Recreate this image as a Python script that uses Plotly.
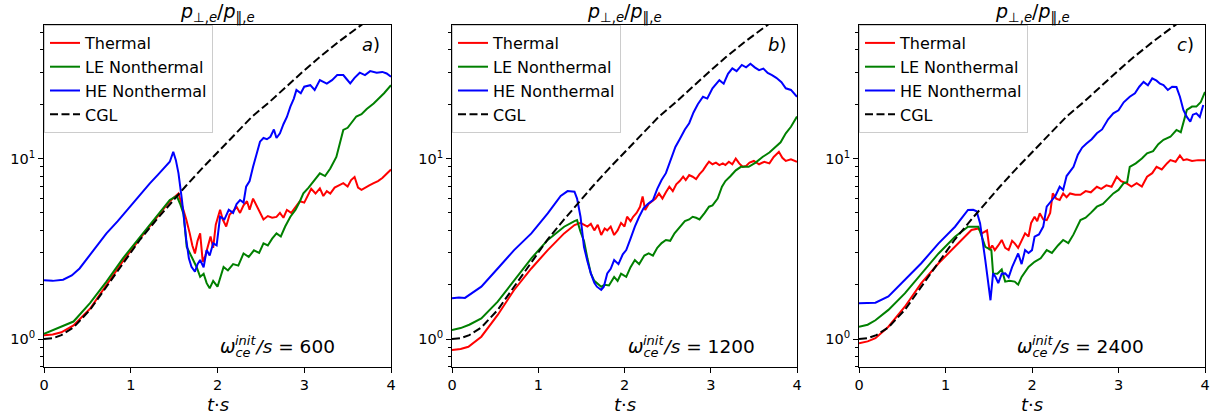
import plotly.graph_objects as go

# ---------------- data ----------------
cgl_t = [0, 0.1, 0.2, 0.34, 0.53, 0.72, 0.91, 1.11, 1.30, 1.49, 1.63, 1.82, 2.02, 2.21, 2.40,
         2.60, 2.79, 2.98, 3.18, 3.40, 3.64, 3.85, 4.0]
cgl_v = [1.00, 1.01, 1.05, 1.16, 1.45, 1.95, 2.65, 3.57, 4.6, 5.9, 7.0, 8.8, 11.1, 13.8, 17.1,
         20.6, 25.0, 30.2, 36.6, 44.5, 54.2, 64, 72]

# panel a  (omega/s = 600)
a_th_t = [0, 0.1, 0.2, 0.34, 0.53, 0.72, 0.91, 1.11, 1.30, 1.45, 1.55, 1.60, 1.64, 1.68, 1.71,
          1.74, 1.77, 1.80, 1.83, 1.86, 1.89, 1.92, 1.95, 1.98, 2.03, 2.06, 2.10, 2.14, 2.18,
          2.22, 2.26, 2.30, 2.34, 2.37, 2.41, 2.45, 2.49, 2.53, 2.58, 2.63, 2.68, 2.72, 2.76,
          2.80, 2.85, 2.90, 2.95, 3.00, 3.04, 3.08, 3.13, 3.18, 3.22, 3.26, 3.30, 3.35, 3.40,
          3.45, 3.50, 3.54, 3.58, 3.62, 3.66, 3.70, 3.75, 3.80, 3.85, 3.90, 3.95, 4.0]
a_th_v = [1.05, 1.06, 1.09, 1.19, 1.47, 1.98, 2.70, 3.62, 4.75, 5.8, 6.4, 5.4, 4.6, 3.85, 3.3,
          2.98, 3.5, 3.85, 2.68, 2.9, 3.3, 3.7, 3.2, 4.3, 5.2, 4.6, 4.2, 4.9, 5.1,
          5.4, 5.0, 5.5, 5.8, 5.2, 6.0, 5.5, 5.0, 4.6, 4.8, 4.7, 4.75, 5.0, 4.7,
          5.19, 5.0, 5.4, 5.8, 5.7, 6.2, 6.8, 6.4, 6.83, 6.2, 6.6, 6.4, 6.9, 7.1,
          7.3, 7.0, 7.6, 7.9, 6.9, 6.7, 6.9, 7.1, 7.3, 7.5, 7.8, 8.2, 8.7]
a_le_t = [0, 0.1, 0.2, 0.34, 0.53, 0.72, 0.91, 1.11, 1.30, 1.45, 1.53, 1.57, 1.61, 1.645, 1.68,
          1.72, 1.76, 1.80, 1.84, 1.875, 1.91, 1.95, 2.0, 2.07, 2.12, 2.18, 2.24, 2.30, 2.36,
          2.42, 2.48, 2.53, 2.58, 2.63, 2.68, 2.73, 2.78, 2.84, 2.90, 2.95, 2.99, 3.05, 3.12,
          3.18, 3.24, 3.30, 3.37, 3.41, 3.45, 3.50, 3.55, 3.60, 3.66, 3.72, 3.80, 3.86, 3.92, 4.0]
a_le_v = [1.07, 1.12, 1.17, 1.25, 1.58, 2.08, 2.80, 3.69, 4.76, 5.9, 6.2, 5.6, 4.9, 3.24, 3.0,
          2.74, 2.5, 2.21, 2.3, 2.04, 1.91, 2.1, 1.95, 2.51, 2.4, 2.6, 2.55, 2.98, 2.85,
          3.1, 3.0, 3.39, 3.3, 3.6, 3.85, 3.7, 4.2, 4.76, 5.2, 5.8, 6.41, 6.9, 7.6,
          8.28, 8.0, 8.8, 10.2, 12.0, 14.4, 14.8, 16.0, 17.1, 17.6, 18.8, 20.2, 21.5, 23.0, 25.5]
a_he_t = [0, 0.1, 0.22, 0.32, 0.41, 0.55, 0.72, 0.85, 0.99, 1.10, 1.22, 1.32, 1.41, 1.45, 1.49,
          1.52, 1.55, 1.59, 1.64, 1.67, 1.70, 1.74, 1.77, 1.80, 1.84, 1.875, 1.91, 1.95, 1.99,
          2.03, 2.08, 2.13, 2.18, 2.22, 2.26, 2.30, 2.33, 2.37, 2.41, 2.45, 2.49, 2.53, 2.57,
          2.61, 2.65, 2.68, 2.72, 2.76, 2.80, 2.84, 2.88, 2.91, 2.96, 3.00, 3.07, 3.12, 3.18,
          3.26, 3.32, 3.38, 3.45, 3.49, 3.53, 3.58, 3.64, 3.70, 3.76, 3.835, 3.90, 3.95, 4.0]
a_he_v = [2.12, 2.10, 2.13, 2.25, 2.46, 3.0, 3.85, 4.5, 5.41, 6.2, 7.29, 8.2, 9.2, 9.6, 10.9,
          9.8, 8.3, 5.9, 3.54, 2.8, 2.51, 2.36, 2.6, 2.74, 2.5, 3.11, 2.9, 3.39, 3.3,
          4.76, 4.6, 5.2, 5.0, 5.6, 5.89, 5.7, 6.98, 7.5, 9.0, 10.5, 12.4, 13.0, 12.8,
          13.2, 14.5, 13.0, 13.8, 15.5, 17.0, 19.4, 21.5, 24.0, 23.0, 25.0, 25.5, 24.0, 27.2,
          26.0, 27.2, 29.0, 29.0, 27.5, 26.1, 28.0, 29.9, 29.0, 30.5, 29.9, 30.2, 29.6, 28.4]

# panel b  (omega/s = 1200)
b_th_t = [0, 0.1, 0.19, 0.34, 0.53, 0.72, 0.92, 1.11, 1.30, 1.42, 1.49, 1.53, 1.57, 1.61, 1.65,
          1.69, 1.73, 1.77, 1.80, 1.84, 1.88, 1.92, 1.96, 2.00, 2.03, 2.07, 2.10, 2.14, 2.18,
          2.21, 2.24, 2.28, 2.32, 2.36, 2.40, 2.44, 2.48, 2.52, 2.56, 2.60, 2.64, 2.68, 2.71,
          2.75, 2.79, 2.83, 2.87, 2.91, 2.95, 2.98, 3.02, 3.06, 3.10, 3.14, 3.17, 3.21, 3.25,
          3.29, 3.33, 3.37, 3.41, 3.45, 3.50, 3.56, 3.62, 3.68, 3.73, 3.79, 3.83, 3.87, 3.93, 4.0]
b_th_v = [0.87, 0.88, 0.906, 1.03, 1.36, 1.87, 2.46, 3.11, 3.85, 4.28, 4.4, 4.3, 4.2, 4.35, 4.0,
          4.3, 3.77, 4.1, 4.0, 4.2, 3.77, 4.0, 4.4, 4.2, 4.76, 4.5, 4.76, 5.0, 5.4,
          6.16, 5.19, 5.6, 5.8, 6.0, 6.41, 6.0, 6.5, 6.98, 6.6, 7.2, 7.5, 7.93, 7.6,
          8.1, 7.93, 7.7, 8.2, 8.6, 9.2, 9.6, 9.3, 9.5, 9.2, 9.4, 9.2, 9.6, 9.3,
          10.0, 9.4, 9.0, 9.1, 9.5, 9.7, 9.3, 9.6, 9.4, 10.2, 10.9, 10.1, 9.7, 9.9, 9.6]
b_le_t = [0, 0.1, 0.2, 0.34, 0.53, 0.72, 0.92, 1.11, 1.30, 1.42, 1.45, 1.49, 1.53, 1.57, 1.61,
          1.65, 1.68, 1.73, 1.77, 1.82, 1.88, 1.92, 1.96, 2.02, 2.07, 2.12, 2.17, 2.23, 2.28,
          2.33, 2.38, 2.43, 2.48, 2.53, 2.58, 2.64, 2.70, 2.75, 2.79, 2.83, 2.87, 2.93, 2.98,
          3.02, 3.08, 3.13, 3.17, 3.23, 3.29, 3.35, 3.44, 3.52, 3.60, 3.68, 3.75, 3.81, 3.87,
          3.93, 4.0]
b_le_v = [1.12, 1.15, 1.2, 1.30, 1.61, 2.12, 2.80, 3.54, 4.19, 4.5, 4.56, 3.93, 3.5, 2.8, 2.31,
          2.1, 2.04, 1.95, 2.0, 1.98, 2.21, 2.1, 2.3, 2.21, 2.5, 2.74, 2.6, 2.9, 2.98,
          2.9, 3.2, 3.4, 3.54, 3.5, 3.85, 4.19, 4.5, 4.6, 4.76, 4.7, 4.6, 5.0, 5.41,
          5.5, 6.0, 6.98, 7.5, 8.0, 8.6, 9.0, 9.0, 9.5, 10.2, 10.8, 11.6, 12.3, 13.8,
          15.0, 17.1]
b_he_t = [0, 0.08, 0.15, 0.34, 0.53, 0.72, 0.92, 1.11, 1.26, 1.34, 1.42, 1.45, 1.49, 1.53, 1.57,
          1.61, 1.65, 1.68, 1.73, 1.76, 1.80, 1.84, 1.88, 1.93, 1.98, 2.02, 2.07, 2.12, 2.17,
          2.22, 2.27, 2.33, 2.38, 2.43, 2.48, 2.53, 2.59, 2.64, 2.70, 2.75, 2.80, 2.85, 2.91,
          2.96, 3.02, 3.10, 3.15, 3.20, 3.25, 3.30, 3.36, 3.41, 3.46, 3.51, 3.56, 3.61, 3.66,
          3.71, 3.76, 3.82, 3.87, 3.93, 4.0]
b_he_v = [1.68, 1.70, 1.69, 1.95, 2.46, 3.11, 3.85, 4.97, 6.2, 6.6, 6.55, 6.0, 4.76, 3.24, 2.7,
          2.31, 2.05, 1.95, 1.87, 1.95, 2.31, 2.45, 2.74, 2.6, 2.95, 3.11, 3.6, 4.2, 4.76,
          5.3, 5.6, 5.89, 6.8, 7.6, 8.3, 9.6, 11.6, 12.8, 14.5, 15.7, 18.0, 20.0, 22.0,
          21.5, 24.5, 27.2, 26.0, 29.5, 31.6, 30.5, 33.0, 32.0, 33.5, 32.0, 30.9, 31.5, 29.8,
          29.0, 28.0, 26.5, 24.5, 24.0, 22.0]

# panel c  (omega/s = 2400)
c_th_t = [0, 0.1, 0.19, 0.34, 0.53, 0.72, 0.92, 1.11, 1.30, 1.38, 1.42, 1.48, 1.51, 1.54, 1.57,
          1.61, 1.65, 1.69, 1.73, 1.77, 1.80, 1.84, 1.88, 1.92, 1.96, 1.99, 2.03, 2.06, 2.09,
          2.13, 2.17, 2.21, 2.24, 2.28, 2.32, 2.36, 2.40, 2.44, 2.50, 2.56, 2.62, 2.68, 2.75,
          2.80, 2.86, 2.92, 2.98, 3.03, 3.09, 3.15, 3.21, 3.27, 3.33, 3.39, 3.44, 3.50, 3.56,
          3.60, 3.66, 3.71, 3.75, 3.79, 3.85, 3.92, 4.0]
c_th_v = [0.946, 0.97, 1.01, 1.17, 1.51, 2.04, 2.63, 3.24, 4.02, 4.1, 3.85, 4.0, 3.11, 3.3, 3.11,
          3.3, 3.54, 3.2, 3.11, 3.5, 3.39, 3.2, 3.5, 3.85, 3.7, 4.4, 4.76, 4.5, 4.97,
          4.6, 4.56, 5.0, 6.41, 6.0, 5.89, 6.4, 6.1, 6.41, 6.3, 6.3, 6.6, 6.5, 6.98,
          6.8, 7.1, 6.98, 7.93, 7.5, 7.3, 7.0, 7.3, 7.0, 7.93, 8.3, 9.0, 8.7, 9.4,
          9.8, 9.6, 10.4, 9.8, 9.9, 9.7, 9.8, 9.8]
c_le_t = [0, 0.1, 0.19, 0.34, 0.53, 0.72, 0.92, 1.11, 1.26, 1.38, 1.46, 1.53, 1.55, 1.60, 1.65,
          1.69, 1.74, 1.80, 1.84, 1.88, 1.96, 2.03, 2.10, 2.17, 2.23, 2.30, 2.36, 2.42, 2.48,
          2.56, 2.62, 2.68, 2.75, 2.82, 2.88, 2.94, 3.00, 3.06, 3.10, 3.13, 3.20, 3.27, 3.33,
          3.40, 3.46, 3.52, 3.60, 3.67, 3.72, 3.79, 3.85, 3.90, 3.95, 4.0]
c_le_v = [1.17, 1.20, 1.27, 1.45, 1.79, 2.31, 2.98, 3.69, 4.19, 4.19, 3.24, 3.11, 2.31, 2.3, 2.43,
          2.08, 2.1, 2.08, 2.0, 2.21, 2.51, 2.68, 2.8, 3.11, 3.0, 3.3, 3.54, 3.4, 3.8,
          4.56, 4.7, 5.0, 5.41, 5.6, 6.0, 6.41, 6.7, 7.3, 7.4, 9.0, 9.4, 10.0, 10.7,
          11.0, 12.0, 12.7, 13.2, 14.4, 14.0, 18.6, 19.4, 19.4, 20.5, 23.4]
c_he_t = [0, 0.1, 0.19, 0.34, 0.53, 0.72, 0.92, 1.11, 1.26, 1.32, 1.36, 1.40, 1.46, 1.49, 1.52,
          1.55, 1.58, 1.61, 1.65, 1.69, 1.73, 1.77, 1.80, 1.84, 1.88, 1.92, 1.96, 2.00, 2.03,
          2.08, 2.13, 2.17, 2.22, 2.27, 2.32, 2.36, 2.40, 2.44, 2.48, 2.53, 2.58, 2.63, 2.69,
          2.75, 2.81, 2.88, 2.94, 3.00, 3.06, 3.13, 3.19, 3.24, 3.29, 3.34, 3.39, 3.44, 3.48,
          3.52, 3.57, 3.62, 3.67, 3.71, 3.75, 3.79, 3.83, 3.86, 3.90, 3.94, 3.98]
c_he_v = [1.58, 1.58, 1.59, 1.72, 2.12, 2.63, 3.39, 4.19, 5.19, 5.2, 5.1, 4.37, 2.74, 2.04, 1.64,
          2.31, 2.2, 2.04, 2.3, 2.31, 2.2, 2.5, 2.7, 2.98, 2.6, 3.11, 3.0, 3.11, 3.69,
          3.8, 4.2, 5.41, 5.8, 6.2, 6.98, 6.7, 8.0, 8.5, 9.0, 10.5, 11.5, 12.1, 12.8,
          13.8, 14.5, 16.5, 17.8, 18.5, 20.5, 22.0, 23.0, 25.0, 26.6, 25.5, 27.8, 27.0, 26.0,
          25.5, 24.0, 25.0, 24.9, 22.0, 18.6, 17.0, 16.0, 17.5, 17.8, 17.0, 19.8]

panel_letters = ["a", "b", "c"]
omega_values = ["600", "1200", "2400"]
series_names = ["Thermal", "LE Nonthermal", "HE Nonthermal", "CGL"]
series_colors = ["#ff0000", "#008000", "#0000ff", "#000000"]

panels = [
    [(a_th_t, a_th_v), (a_le_t, a_le_v), (a_he_t, a_he_v)],
    [(b_th_t, b_th_v), (b_le_t, b_le_v), (b_he_t, b_he_v)],
    [(c_th_t, c_th_v), (c_le_t, c_le_v), (c_he_t, c_he_v)],
]

# ---------------- layout geometry ----------------
W, H = 1222, 419
ML, MR, MT, MB = 44, 17, 25, 52
PW = W - ML - MR
PH = H - MT - MB
panel_px = [(44, 391), (452, 797), (859, 1205)]
domains = [[(a - ML) / PW, (b - ML) / PW] for a, b in panel_px]

FONT = "DejaVu Sans"
fig = go.Figure()

for i, series in enumerate(panels):
    xa = "x" if i == 0 else f"x{i+1}"
    ya = "y" if i == 0 else f"y{i+1}"
    lg = "legend" if i == 0 else f"legend{i+1}"
    for k, (tt, vv) in enumerate(series):
        assert len(tt) == len(vv), (i, k, len(tt), len(vv))
        fig.add_trace(go.Scatter(x=tt, y=vv, mode="lines", name=series_names[k],
                                 line=dict(color=series_colors[k], width=2),
                                 xaxis=xa, yaxis=ya, legend=lg))
    fig.add_trace(go.Scatter(x=cgl_t, y=cgl_v, mode="lines", name=series_names[3],
                             line=dict(color="#000000", width=2, dash="8px,3.5px"),
                             xaxis=xa, yaxis=ya, legend=lg))

axis_common = dict(showline=True, mirror=True, linecolor="black", linewidth=1,
                   ticks="outside", ticklen=5, tickwidth=1, tickcolor="black",
                   showgrid=False, zeroline=False, automargin=False,
                   tickfont=dict(family=FONT, size=14.5, color="black"))

minor_vals = [0.7, 0.8, 0.9, 2, 3, 4, 5, 6, 7, 8, 9, 20, 30, 40, 50]
layout = dict(width=W, height=H, margin=dict(l=ML, r=MR, t=MT, b=MB),
              paper_bgcolor="white", plot_bgcolor="white", hovermode=False,
              font=dict(family=FONT, color="black"), showlegend=True)

annotations = []
label_starts = [218, 626, 1015]
for i in range(3):
    sx = "" if i == 0 else str(i + 1)
    layout["xaxis" + sx] = dict(domain=domains[i], anchor="y" + sx, range=[0, 4],
                                tickvals=[0, 1, 2, 3, 4], **axis_common)
    layout["yaxis" + sx] = dict(domain=[0, 1], anchor="x" + sx, type="log",
                                range=[-0.155, 1.74], tickvals=[1, 10],
                                ticktext=["10<sup>0</sup>", "10<sup>1</sup>"],
                                minor=dict(ticks="outside", ticklen=3, tickwidth=1,
                                           tickcolor="black", tickvals=minor_vals),
                                **axis_common)
    layout["legend" + sx] = dict(x=domains[i][0], y=1, xanchor="left", yanchor="top",
                                 bgcolor="rgba(255,255,255,0.8)", bordercolor="#cccccc",
                                 borderwidth=1, font=dict(family=FONT, size=16, color="black"),
                                 tracegroupgap=0, itemwidth=30)
    xd = "x" + sx + " domain"
    yd = "y" + sx + " domain"
    # title
    annotations.append(dict(text="<i>p</i><sub>⊥,<i>e</i></sub>/<i>p</i><sub>\u2016,<i>e</i></sub>",
                            xref=xd, yref="paper", x=0.5, y=1.035, xanchor="center",
                            yanchor="middle", showarrow=False,
                            font=dict(family=FONT, size=19, color="black")))
    # x-axis title
    annotations.append(dict(text="<i>t</i>·<i>s</i>", xref=xd, yref="paper", x=0.5, y=-0.111,
                            xanchor="center", yanchor="middle", showarrow=False,
                            font=dict(family=FONT, size=18, color="black")))
    # panel letter
    annotations.append(dict(text=f"<i>{panel_letters[i]}</i>)", xref=xd, yref=yd,
                            x=0.943, y=0.944, xanchor="center", yanchor="middle",
                            showarrow=False, font=dict(family=FONT, size=18, color="black")))
    # omega label
    x0 = (label_starts[i] - ML) / PW
    annotations.append(dict(text=f"<i>ω</i><sub><i>ce</i></sub> <i>/s</i> = {omega_values[i]}",
                            xref="paper", yref="paper", x=x0, y=(H - MB - 348) / PH,
                            xanchor="left", yanchor="middle", showarrow=False,
                            font=dict(family=FONT, size=18.5, color="black")))
    annotations.append(dict(text="<i>init</i>", xref="paper", yref="paper",
                            x=(label_starts[i] + 15 - ML) / PW, y=(H - MB - 340) / PH,
                            xanchor="left", yanchor="middle", showarrow=False,
                            font=dict(family=FONT, size=13, color="black")))

layout["annotations"] = annotations
fig.update_layout(**layout)
fig.write_html("out.html", config={"displayModeBar": False, "staticPlot": True},
               post_script="document.body.style.margin='0px';")
